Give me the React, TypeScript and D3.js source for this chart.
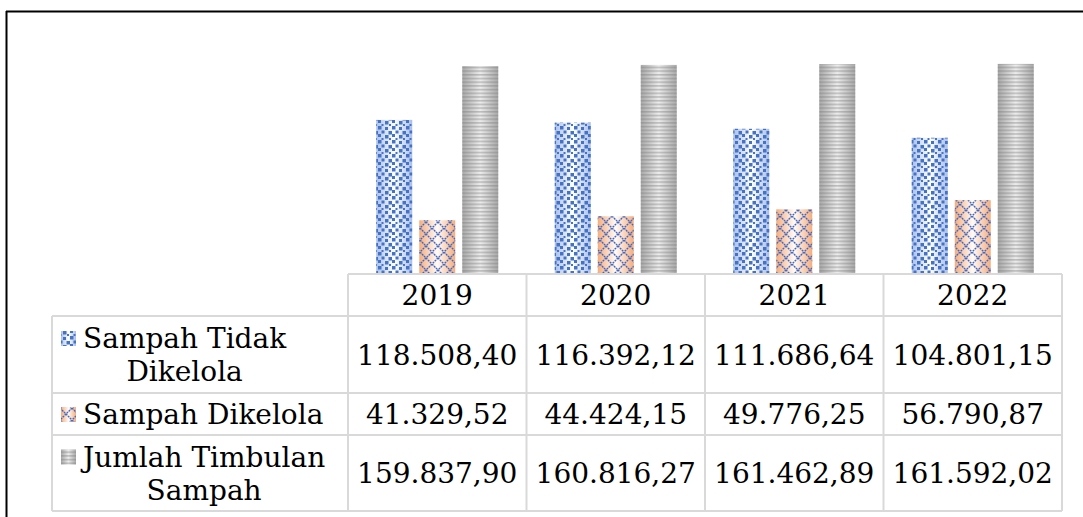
import React, { useEffect, useRef } from 'react';
import { select, scaleBand, scaleLinear, formatLocale } from 'd3';

const years = ['2019', '2020', '2021', '2022'];
const seriesNames = ['Sampah Tidak Dikelola', 'Sampah Dikelola', 'Jumlah Timbulan Sampah'];
const legendLines = [['Sampah Tidak', 'Dikelola'], ['Sampah Dikelola'], ['Jumlah Timbulan', 'Sampah']];
const tidakDikelola = [118508.40, 116392.12, 111686.64, 104801.15];
const dikelola = [41329.52, 44424.15, 49776.25, 56790.87];
const timbulan = [159837.90, 160816.27, 161462.89, 161592.02];
const seriesValues = [tidakDikelola, dikelola, timbulan];

const W = 1083;
const H = 517;
const font = '"DejaVu Serif", "Liberation Serif", serif';
const fontSize = 28;

// table geometry
const tableLeft = 52;
const tableX0 = 348;
const tableX1 = 1062;
const rowLines = [274, 316, 393, 435, 511];
const baseline = 274;

const idFill = ['blue', 'orange', 'gray'];

const idLocale = formatLocale({ decimal: ',', thousands: '.', grouping: [3], currency: ['Rp', ''] });
const fmt = idLocale.format(',.2f');

function App() {
  const svgRef = useRef<SVGSVGElement | null>(null);

  useEffect(() => {
    const svg = select(svgRef.current);
    svg.selectAll('*').remove();

    const x = scaleBand().domain(years).range([tableX0, tableX1]).padding(0);
    const xs = scaleBand()
      .domain(seriesNames)
      .range([0, x.bandwidth()])
      .paddingInner(0.163)
      .paddingOuter(0.657);
    const y = scaleLinear().domain([0, 180000]).range([baseline, 40]);

    const defs = svg.append('defs');

    const grad = (id: string, edge: string, mid: string) => {
      const g = defs.append('linearGradient').attr('id', id).attr('x1', 0).attr('x2', 1).attr('y1', 0).attr('y2', 0);
      g.append('stop').attr('offset', 0).attr('stop-color', edge);
      g.append('stop').attr('offset', 0.5).attr('stop-color', mid);
      g.append('stop').attr('offset', 1).attr('stop-color', edge);
    };
    grad('g-blue', '#a9bfea', '#ffffff');
    grad('g-orange', '#f4ad7e', '#fffaf6');
    grad('g-gray', '#a8a8a8', '#ececec');

    // confetti squares
    const pb = defs.append('pattern').attr('id', 'p-blue').attr('patternUnits', 'userSpaceOnUse')
      .attr('width', 14).attr('height', 14);
    const sq = [[0, 0, 3.5], [7, 1, 3], [3.5, 4.5, 3], [10.5, 5, 3.5], [0, 8, 3], [7, 9, 3.5], [3.5, 12, 2], [11, 12, 2]];
    sq.forEach(([a, b, s]) => pb.append('rect').attr('x', a).attr('y', b).attr('width', s).attr('height', s).attr('fill', '#4472c4'));

    // diagonal lattice
    const po = defs.append('pattern').attr('id', 'p-orange').attr('patternUnits', 'userSpaceOnUse')
      .attr('width', 12).attr('height', 12);
    po.append('path').attr('d', 'M0,0L12,12M12,0L0,12').attr('stroke', '#4468c0').attr('stroke-width', 1.4)
      .attr('stroke-dasharray', '2,0.8').attr('fill', 'none');

    // horizontal stripes
    const pg = defs.append('pattern').attr('id', 'p-gray').attr('patternUnits', 'userSpaceOnUse')
      .attr('width', 4).attr('height', 3.7);
    pg.append('rect').attr('x', 0).attr('y', 0).attr('width', 4).attr('height', 1.6).attr('fill', 'rgba(120,120,120,0.4)');

    const drawFilled = (g: any, k: number, bx: number, by: number, bw: number, bh: number) => {
      g.append('rect').attr('x', bx).attr('y', by).attr('width', bw).attr('height', bh)
        .attr('fill', `url(#g-${idFill[k]})`);
      g.append('rect').attr('x', bx).attr('y', by).attr('width', bw).attr('height', bh)
        .attr('fill', `url(#p-${idFill[k]})`);
    };

    // bars
    const bars = svg.append('g');
    years.forEach((yr, i) => {
      seriesNames.forEach((s, k) => {
        const v = seriesValues[k][i];
        drawFilled(bars, k, x(yr)! + xs(s)!, y(v), xs.bandwidth(), baseline - y(v));
      });
    });

    // frame
    svg.append('line').attr('x1', 6).attr('x2', W).attr('y1', 11.5).attr('y2', 11.5)
      .attr('stroke', '#000').attr('stroke-width', 2);
    svg.append('line').attr('x1', 6.5).attr('x2', 6.5).attr('y1', 11).attr('y2', H)
      .attr('stroke', '#000').attr('stroke-width', 2);

    // table grid
    const grid = svg.append('g').attr('stroke', '#d9d9d9').attr('stroke-width', 2);
    rowLines.forEach((ry, j) => {
      grid.append('line').attr('x1', j === 0 ? tableX0 : tableLeft).attr('x2', tableX1)
        .attr('y1', ry).attr('y2', ry);
    });
    grid.append('line').attr('x1', tableLeft).attr('x2', tableLeft).attr('y1', rowLines[1]).attr('y2', rowLines[4]);
    [...years.map(yr => x(yr)!), tableX1].forEach(cx => {
      grid.append('line').attr('x1', cx).attr('x2', cx).attr('y1', rowLines[0]).attr('y2', rowLines[4]);
    });

    const txt = svg.append('g').attr('font-family', font).attr('font-size', fontSize).attr('fill', '#000');

    // header
    years.forEach(yr => {
      txt.append('text').attr('x', x(yr)! + x.bandwidth() / 2).attr('y', (rowLines[0] + rowLines[1]) / 2 + 10)
        .attr('text-anchor', 'middle').text(yr);
    });

    // rows
    seriesNames.forEach((s, k) => {
      const cy = (rowLines[k + 1] + rowLines[k + 2]) / 2;
      years.forEach((yr, i) => {
        txt.append('text').attr('x', x(yr)! + x.bandwidth() / 2).attr('y', cy + 10)
          .attr('text-anchor', 'middle').text(fmt(seriesValues[k][i]));
      });
      const lines = legendLines[k];
      const top = cy + 10 - (lines.length - 1) * 16.5;
      const first = txt.append('text').attr('x', 83).attr('y', top).text(lines[0]);
      const w = (first.node() as SVGTextElement).getComputedTextLength();
      if (lines.length > 1) {
        txt.append('text').attr('x', 83 + w / 2).attr('y', top + 33).attr('text-anchor', 'middle').text(lines[1]);
      }
      drawFilled(svg.append('g'), k, 61, top - 17, 15, 15);
    });
  }, []);

  return (
    <svg ref={svgRef} width={W} height={H}
      style={{ position: 'absolute', left: 0, top: 0, background: '#fff' }} />
  );
}

export default App;
